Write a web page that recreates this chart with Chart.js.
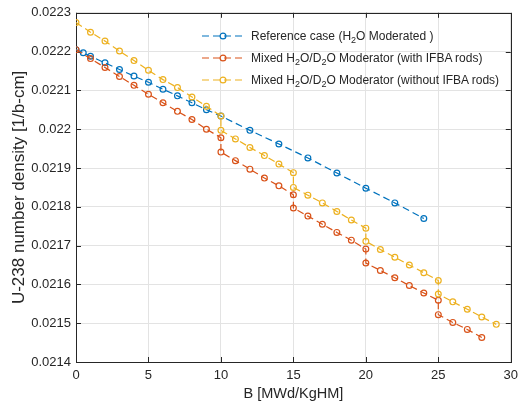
<!DOCTYPE html>
<html>
<head>
<meta charset="utf-8">
<script src="https://cdn.jsdelivr.net/npm/chart.js@4"></script>
<style>
  body { margin: 0; background: #fff; }
  #quadro { position: relative; width: 524px; height: 403px; }
  #legenda {
    position: absolute; left: 200px; top: 25px;
    font-family: "Liberation Sans", Arial, sans-serif; font-size: 12px; color: #262626;
  }
  .item { display: flex; align-items: center; height: 22px; white-space: nowrap; }
  .item svg { flex: none; }
  .item span { margin-left: 5px; }
  .item sub { font-size: 9px; line-height: 0; vertical-align: -3px; }
</style>
</head>
<body>
<div id="quadro">
  <canvas id="grafico" width="524" height="403"></canvas>
  <div id="legenda"></div>
</div>
<script>
// eixos
const ticksX = [0, 5, 10, 15, 20, 25, 30];
const ticksY = [0.0214, 0.0215, 0.0216, 0.0217, 0.0218, 0.0219, 0.022, 0.0221, 0.0222, 0.0223];

// Reference case (H2O)
const xRef = [0, 0.5, 1, 2, 3, 4, 5, 6, 7, 8, 9, 10, 12, 14, 16, 18, 20, 22, 24];
const yRef = [0.022205, 0.022197, 0.022188, 0.022171, 0.022154, 0.022137, 0.022121, 0.022103, 0.022086,
  0.022068, 0.02205, 0.022034, 0.021997, 0.021962, 0.021926, 0.021887, 0.021848, 0.02181, 0.02177];

// Mixed H2O/D2O com IFBA
const xComIfba = [0, 1, 2, 3, 4, 5, 6, 7, 8, 9, 10, 10, 11, 12, 13, 14, 15, 15, 16, 17, 18, 19, 20, 20,
  21, 22, 23, 24, 25, 25, 26, 27, 28];
const yComIfba = [0.022205, 0.022182, 0.022159, 0.022136, 0.022113, 0.02209, 0.022068, 0.022046, 0.022025,
  0.022, 0.021978, 0.021941, 0.021919, 0.021897, 0.021874, 0.021854, 0.021831, 0.021797, 0.021776,
  0.021755, 0.021734, 0.021714, 0.021691, 0.021655, 0.021636, 0.021617, 0.021597, 0.021578, 0.021559,
  0.021522, 0.021502, 0.021484, 0.021463];

// Mixed H2O/D2O sem IFBA
const xSemIfba = [0, 1, 2, 3, 4, 5, 6, 7, 8, 9, 10, 10, 11, 12, 13, 14, 15, 15, 16, 17, 18, 19, 20, 20,
  21, 22, 23, 24, 25, 25, 26, 27, 28, 29];
const ySemIfba = [0.022275, 0.02225, 0.022227, 0.0222015, 0.0221768, 0.0221518, 0.0221278, 0.0221072,
  0.022083, 0.022059, 0.022034, 0.021997, 0.021975, 0.021953, 0.021932, 0.02191, 0.021888, 0.02185,
  0.02183, 0.02181, 0.021788, 0.021766, 0.021745, 0.021711, 0.02169, 0.02167, 0.02165, 0.02163,
  0.02161, 0.021575, 0.021555, 0.021536, 0.021516, 0.021497];

const rotulos = [
  'Reference case (H<sub>2</sub>O Moderated )',
  'Mixed H<sub>2</sub>O/D<sub>2</sub>O Moderator (with IFBA rods)',
  'Mixed H<sub>2</sub>O/D<sub>2</sub>O Moderator (without IFBA rods)'
];
const cores = ['#0072BD', '#D95319', '#EDB120'];

const fonte = '"Liberation Sans", Arial, Helvetica, sans-serif';
const corTexto = '#262626';

function pontos(xs, ys) {
  return xs.map((x, i) => ({ x, y: ys[i] }));
}

function serie(i, xs, ys, ordem) {
  return {
    label: rotulos[i],
    data: pontos(xs, ys),
    borderColor: cores[i],
    borderWidth: 1.2,
    borderDash: [7, 4],
    pointStyle: 'circle',
    pointRadius: 2.9,
    pointBorderWidth: 1.2,
    pointBorderColor: cores[i],
    pointBackgroundColor: 'rgba(0,0,0,0)',
    tension: 0,
    order: ordem
  };
}

// caixa do eixo e ticks para dentro (estilo MATLAB)
const caixaEixos = {
  id: 'caixaEixos',
  beforeDatasetsDraw(chart) {
    const { ctx, chartArea: a, scales } = chart;
    ctx.save();
    ctx.strokeStyle = corTexto;
    ctx.lineWidth = 1;
    ctx.beginPath();
    ticksX.forEach(v => {
      const px = Math.round(scales.x.getPixelForValue(v)) + 0.5;
      ctx.moveTo(px, a.bottom); ctx.lineTo(px, a.bottom - 5);
      ctx.moveTo(px, a.top); ctx.lineTo(px, a.top + 5);
    });
    ticksY.forEach(v => {
      const py = Math.round(scales.y.getPixelForValue(v)) + 0.5;
      ctx.moveTo(a.left, py); ctx.lineTo(a.left + 5, py);
      ctx.moveTo(a.right, py); ctx.lineTo(a.right - 5, py);
    });
    ctx.stroke();
    ctx.strokeRect(Math.round(a.left) + 0.5, Math.round(a.top) + 0.5,
      Math.round(a.right - a.left), Math.round(a.bottom - a.top));
    ctx.restore();
  }
};

const ctx = document.getElementById('grafico').getContext('2d');
const grafico = new Chart(ctx, {
  type: 'line',
  data: {
    datasets: [
      serie(0, xRef, yRef, 3),
      serie(1, xComIfba, yComIfba, 2),
      serie(2, xSemIfba, ySemIfba, 1)
    ]
  },
  options: {
    responsive: false,
    animation: false,
    layout: { padding: { top: 12, right: 8, left: 0, bottom: 0 } },
    plugins: { legend: { display: false }, tooltip: { enabled: false } },
    scales: {
      x: {
        type: 'linear',
        min: 0, max: 30,
        afterBuildTicks: s => { s.ticks = ticksX.map(v => ({ value: v })); },
        afterFit: s => { s.height = 41; },
        grid: { color: '#e3e3e3', drawTicks: false },
        border: { display: false },
        ticks: { color: corTexto, font: { family: fonte, size: 13 }, padding: 6, maxRotation: 0 },
        title: {
          display: true, text: 'B [MWd/KgHM]', color: corTexto,
          font: { family: fonte, size: 14.5 }, padding: { top: 0, bottom: 0 }
        }
      },
      y: {
        type: 'linear',
        min: 0.0214, max: 0.0223,
        afterBuildTicks: s => { s.ticks = ticksY.map(v => ({ value: v })); },
        afterFit: s => { s.width = 76; },
        grid: { color: '#e3e3e3', drawTicks: false },
        border: { display: false },
        ticks: {
          color: corTexto, font: { family: fonte, size: 13 }, padding: 5,
          callback: v => String(Number(v.toFixed(5)))
        },
        title: {
          display: true, text: 'U-238 number density [1/b-cm]', color: corTexto,
          font: { family: fonte, size: 17 }, padding: { top: 9, bottom: 0 }
        }
      }
    }
  },
  plugins: [caixaEixos]
});

// legenda em HTML (para os subscritos)
const legenda = document.getElementById('legenda');
rotulos.forEach((txt, i) => {
  const item = document.createElement('div');
  item.className = 'item';
  item.innerHTML = `
    <svg width="46" height="10">
      <line x1="2" y1="5" x2="44" y2="5" stroke="${cores[i]}" stroke-width="1.2" stroke-dasharray="7 4"/>
      <circle cx="23" cy="5" r="2.9" fill="none" stroke="${cores[i]}" stroke-width="1.2"/>
    </svg>
    <span>${txt}</span>`;
  legenda.appendChild(item);
});
</script>
</body>
</html>
